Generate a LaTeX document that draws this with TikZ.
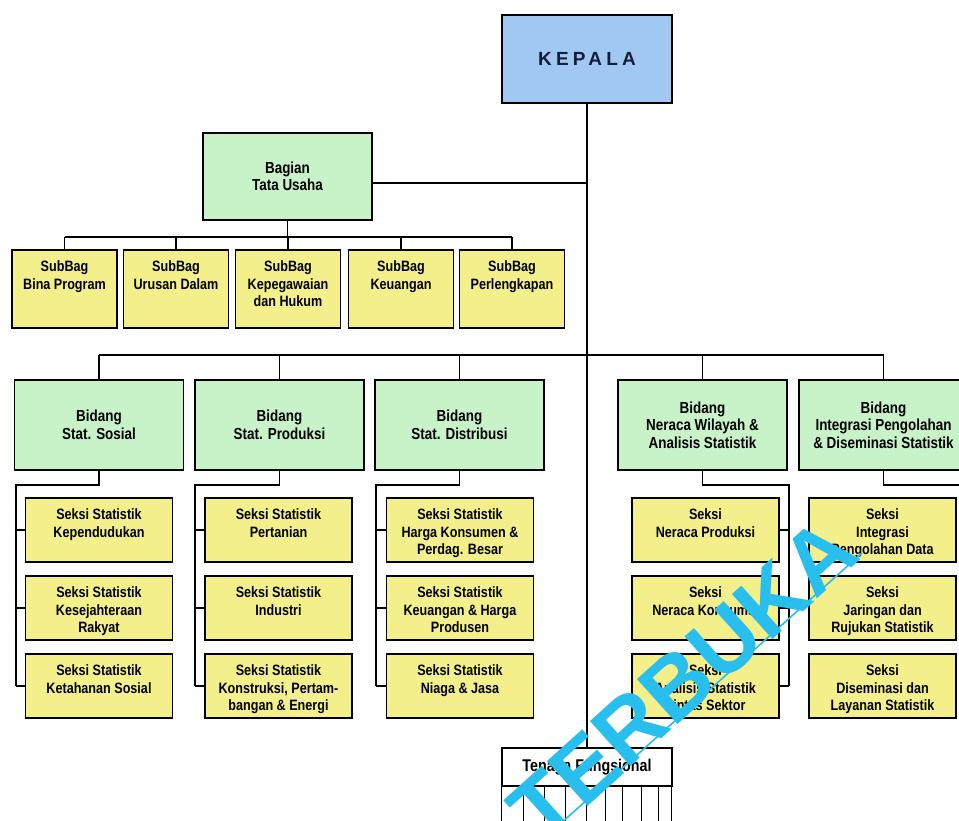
\documentclass[tikz,border=0pt]{standalone}
\usepackage{fontspec}
\setmainfont{Liberation Sans}
\newfontfamily\kotakfont[FakeStretch=0.84]{Liberation Sans}
\newfontfamily\kepalafont[LetterSpace=22]{Liberation Sans}
\definecolor{biru}{RGB}{160,200,240}
\definecolor{hijau}{RGB}{200,242,200}
\definecolor{kuning}{RGB}{243,240,140}
\definecolor{tinta}{RGB}{20,30,60}
\definecolor{cyanwm}{RGB}{40,190,238}
\tikzset{
  garis/.style={black, line width=1.1pt},
  kotak/.style={draw=black, line width=1.1pt, inner sep=0pt},
  atas/.style 2 args={kotak, inner xsep=0pt, inner ysep=11pt, minimum width=#1,
    font=\kotakfont\bfseries\fontsize{15}{17.5}\selectfont,
    execute at begin node={\begin{minipage}[t][#2][t]{#1}\centering},
    execute at end node={\end{minipage}}},
  subbag/.style={atas={105pt}{56pt}, fill=kuning},
  seksi/.style={atas={147pt}{42pt}, fill=kuning},
  bidang/.style={kotak, fill=hijau, minimum width=169pt, minimum height=90pt, align=center,
    font=\kotakfont\bfseries\fontsize{16}{17.5}\selectfont},
  kepalabox/.style={kotak, fill=biru, minimum width=170pt, minimum height=88pt, text=tinta,
    font=\kepalafont\bfseries\fontsize{19}{19}\selectfont}
}
\begin{document}
\begin{tikzpicture}[x=1pt,y=-1pt]
\path[use as bounding box, clip] (0,0) rectangle (959,820);
\node[kepalabox] (kepala) at (587,59) {KEPALA};
\node[bidang, minimum height=87pt] (tu) at (287.5,176.5) {Bagian\\Tata Usaha};
\foreach \x/\nm/\isi in {64.5/1/{SubBag\\Bina Program}, 176/2/{SubBag\\Urusan Dalam},
    288/3/{SubBag\\Kepegawaian\\dan Hukum}, 401/4/{SubBag\\Keuangan}, 512/5/{SubBag\\Perlengkapan}}
  \node[subbag] (sb\nm) at (\x,289) {\isi};
\foreach \x/\nm/\isi in {99/1/{Bidang\\Stat. Sosial}, 279.5/2/{Bidang\\Stat. Produksi},
    459.5/3/{Bidang\\Stat. Distribusi}, 702.5/4/{Bidang\\Neraca Wilayah \&\\Analisis Statistik},
    883.5/5/{Bidang\\Integrasi Pengolahan\\\& Diseminasi Statistik}}
  \node[bidang] (bd\nm) at (\x,425) {\isi};
\node[seksi] (s11) at (99,530) {Seksi Statistik\\Kependudukan};
\node[seksi] (s12) at (99,608) {Seksi Statistik\\Kesejahteraan\\Rakyat};
\node[seksi] (s13) at (99,686) {Seksi Statistik\\Ketahanan Sosial};
\node[seksi] (s21) at (278.5,530) {Seksi Statistik\\Pertanian};
\node[seksi] (s22) at (278.5,608) {Seksi Statistik\\Industri};
\node[seksi] (s23) at (278.5,686) {Seksi Statistik\\Konstruksi, Pertam-\\bangan \& Energi};
\node[seksi] (s31) at (460,530) {Seksi Statistik\\Harga Konsumen \&\\Perdag. Besar};
\node[seksi] (s32) at (460,608) {Seksi Statistik\\Keuangan \& Harga\\Produsen};
\node[seksi] (s33) at (460,686) {Seksi Statistik\\Niaga \& Jasa};
\node[seksi] (s41) at (705.5,530) {Seksi\\Neraca Produksi};
\node[seksi] (s42) at (705.5,608) {Seksi\\Neraca Konsumsi};
\node[seksi] (s43) at (705.5,686) {Seksi\\Analisis Statistik\\Lintas Sektor};
\node[seksi] (s51) at (882.5,530) {Seksi\\Integrasi\\Pengolahan Data};
\node[seksi] (s52) at (882.5,608) {Seksi\\Jaringan dan\\Rujukan Statistik};
\node[seksi] (s53) at (882.5,686) {Seksi\\Diseminasi dan\\Layanan Statistik};
\node[kotak, fill=white, minimum width=170pt, minimum height=38pt,
  font=\kotakfont\bfseries\fontsize{17}{17}\selectfont] (fungsi) at (587,767) {Tenaga Fungsional};
\coordinate (bus1) at (0,237);
\coordinate (bus2) at (0,355);
\coordinate (k1) at (16,485);
\coordinate (k2) at (195,485);
\coordinate (k3) at (376,485);
\coordinate (k4) at (789,485);
\coordinate (k5) at (959,485);
\draw[garis] (kepala) -- (fungsi);
\draw[garis] ([yshift=-6.5pt]tu.east) -- ([yshift=-6.5pt]tu.east -| kepala.south);
\draw[garis] (tu.south) -- (tu.south |- bus1);
\draw[garis] (sb1.north |- bus1) -- (sb5.north |- bus1);
\foreach \i in {1,...,5}
  \draw[garis] (sb\i.north |- bus1) -- (sb\i.north);
\draw[garis] (bd1.north |- bus2) -- (bd5.north |- bus2);
\foreach \i in {1,...,5}
  \draw[garis] (bd\i.north |- bus2) -- (bd\i.north);
\foreach \i in {1,2,3} {
  \draw[garis] (bd\i.south) -- (bd\i.south |- k\i) -- (k\i) -- (k\i |- s\i3.west);
  \foreach \j in {1,2,3}
    \draw[garis] (k\i |- s\i\j.west) -- (s\i\j.west);
}
\draw[garis] (bd4.south) -- (bd4.south |- k4) -- (k4) -- (k4 |- s43.east);
\foreach \j in {1,2,3}
  \draw[garis] (k4 |- s4\j.east) -- (s4\j.east);
\draw[garis] (bd5.south) -- (bd5.south |- k5) -- (k5);
\foreach \dx in {0,22,43,64,85,104,121,140,157,170}
  \draw[garis] ([xshift=\dx pt]fungsi.south west) -- ++(0,50);
\node[text=cyanwm, rotate=42, font=\bfseries\fontsize{88}{88}\selectfont] (terbuka) at (683,680) {TERBUKA};
\coordinate (ul1) at (520,860);
\coordinate (ul2) at (862,553);
\draw[cyanwm, line width=1.6pt] (ul1) -- (ul2);
\end{tikzpicture}
\end{document}
